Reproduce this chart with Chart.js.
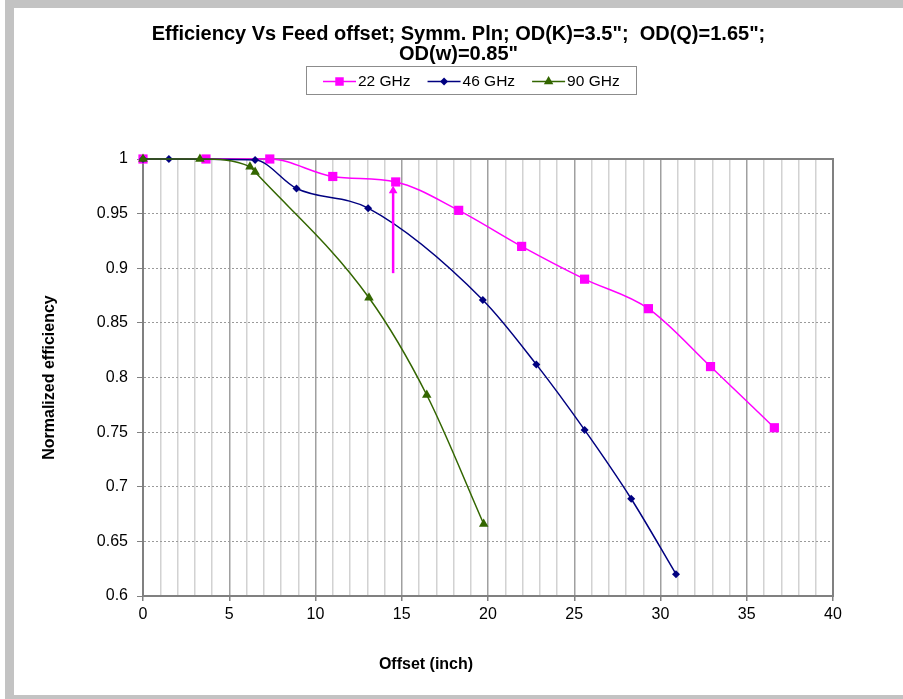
<!DOCTYPE html>
<html lang="en">
<head>
<meta charset="UTF-8">
<title>Efficiency Vs Feed offset</title>
<style>
  html, body { margin: 0; padding: 0; background: #fff; }
  #frame { position: absolute; left: 5px; top: 0; width: 898px; height: 699px; background: #c3c3c3; }
  #box { position: absolute; left: 14px; top: 8px; width: 889px; height: 687px; background: #fff; }
</style>
</head>
<body>
<div id="frame"></div>
<div id="box"><canvas id="effChart"></canvas></div>

<script src="https://cdn.jsdelivr.net/npm/chart.js"></script>
<script>
// feed offset (inch) and normalized efficiency
const seriesNames = ['22 GHz', '46 GHz', '90 GHz'];

const offset22 = [0, 3.65, 7.35, 11.0, 14.65, 18.3, 21.95, 25.6, 29.3, 32.9, 36.6];
const eff22    = [1, 1, 1, 0.984, 0.979, 0.953, 0.920, 0.890, 0.863, 0.810, 0.754];

const offset46 = [0, 1.5, 6.5, 8.9, 13.05, 19.7, 22.8, 25.6, 28.3, 30.9];
const eff46    = [1, 1, 0.999, 0.973, 0.955, 0.871, 0.812, 0.752, 0.689, 0.620];

const offset90 = [0, 3.3, 6.2, 6.5, 13.1, 16.45, 19.75];
const eff90    = [1, 1, 0.993, 0.988, 0.873, 0.784, 0.666];

// the magenta arrow marking the chosen offset
const arrowX = [14.5, 14.5];
const arrowY = [0.8955, 0.971];

const xTicks = { min: 0, max: 40, step: 1, labelEvery: 5 };
const yTicks = { min: 0.6, max: 1, step: 0.05 };

const colors = ['#ff00ff', '#000080', '#336600'];
const styles = ['rect', 'rectRot', 'triangle'];
const radii  = [6.5, 4, 5.5];

const FONT = '"Liberation Sans", Arial, Helvetica, sans-serif';
Chart.defaults.font.family = FONT;
Chart.defaults.color = '#000';

const toPoints = (xs, ys) => xs.map((x, i) => ({ x: x, y: ys[i] }));

function series(i, xs, ys, order) {
    return {
        label: seriesNames[i],
        data: toPoints(xs, ys),
        showLine: true,
        clip: false,
        borderColor: colors[i],
        backgroundColor: colors[i],
        borderWidth: 1.5,
        pointStyle: styles[i],
        pointRadius: radii[i],
        pointBorderWidth: 0,
        cubicInterpolationMode: 'monotone',
        order: order
    };
}

function drawMarker(ctx, style, x, y, r) {
    ctx.beginPath();
    if (style === 'rect') {
        const s = r * Math.SQRT1_2;
        ctx.rect(x - s, y - s, 2 * s, 2 * s);
    } else if (style === 'rectRot') {
        ctx.moveTo(x, y - r); ctx.lineTo(x + r, y); ctx.lineTo(x, y + r); ctx.lineTo(x - r, y);
        ctx.closePath();
    } else {
        const w = r * Math.sqrt(3) / 2;
        ctx.moveTo(x, y - r); ctx.lineTo(x + w, y + r / 2); ctx.lineTo(x - w, y + r / 2);
        ctx.closePath();
    }
    ctx.fill();
}

// plot frame, hand-made legend box and the x axis title
const extras = {
    id: 'extras',
    beforeDatasetsDraw(chart) {
        const { ctx, chartArea: a } = chart;
        ctx.save();
        ctx.strokeStyle = '#808080';
        ctx.lineWidth = 2;
        ctx.strokeRect(a.left, a.top, a.right - a.left, a.bottom - a.top);
        ctx.restore();
    },
    afterDraw(chart) {
        const ctx = chart.ctx;
        ctx.save();
        ctx.strokeStyle = '#8c8c8c';
        ctx.lineWidth = 1;
        ctx.strokeRect(292.5, 58.5, 330, 28);

        ctx.font = '15.5px ' + FONT;
        ctx.textBaseline = 'middle';
        ctx.textAlign = 'left';
        let x = 309;
        const y = 73.5;
        seriesNames.forEach((name, i) => {
            ctx.strokeStyle = colors[i];
            ctx.fillStyle = colors[i];
            ctx.lineWidth = 1.5;
            ctx.beginPath();
            ctx.moveTo(x, y); ctx.lineTo(x + 33, y);
            ctx.stroke();
            drawMarker(ctx, styles[i], x + 16.5, y, i === 0 ? 6 : radii[i]);
            ctx.fillStyle = '#000';
            ctx.fillText(name, x + 35, y);
            x += 35 + ctx.measureText(name).width + 17;
        });

        ctx.font = 'bold 16px ' + FONT;
        ctx.textAlign = 'center';
        ctx.fillText('Offset (inch)', 412, 657);
        ctx.restore();
    }
};

new Chart(document.getElementById('effChart'), {
    type: 'scatter',
    data: {
        datasets: [
            series(0, offset22, eff22, 3),
            series(1, offset46, eff46, 2),
            series(2, offset90, eff90, 1),
            {
                label: 'arrow',
                data: toPoints(arrowX, arrowY),
                showLine: true,
                borderColor: colors[0],
                backgroundColor: colors[0],
                borderWidth: 2.5,
                pointStyle: 'triangle',
                pointRadius: [0, 5],
                pointBorderWidth: 0,
                order: 0
            }
        ]
    },
    options: {
        responsive: true,
        maintainAspectRatio: false,
        animation: false,
        layout: { padding: 0 },
        plugins: {
            legend: { display: false },
            tooltip: { enabled: false },
            title: {
                display: true,
                text: ['Efficiency Vs Feed offset; Symm. Pln; OD(K)=3.5";  OD(Q)=1.65";', 'OD(w)=0.85"'],
                font: { size: 20, weight: 'bold', lineHeight: 1.0 },
                color: '#000',
                padding: { top: 16, bottom: 95 }
            }
        },
        scales: {
            x: {
                type: 'linear',
                min: xTicks.min,
                max: xTicks.max,
                afterFit: s => { s.height = 99; },
                ticks: {
                    stepSize: xTicks.step,
                    autoSkip: false,
                    maxRotation: 0,
                    padding: 4,
                    font: { size: 16 },
                    callback: v => (v % xTicks.labelEvery === 0 ? String(v) : '')
                },
                grid: {
                    color: c => (c.tick && c.tick.value % xTicks.labelEvery === 0 ? '#a0a0a0' : '#d2d2d2'),
                    lineWidth: 1.5,
                    tickLength: 5,
                    tickColor: c => (c.tick && c.tick.value % xTicks.labelEvery === 0 ? '#808080' : 'rgba(0,0,0,0)')
                },
                border: { color: '#808080', width: 2 }
            },
            y: {
                min: yTicks.min,
                max: yTicks.max,
                afterFit: s => { s.width = 129; },
                ticks: {
                    stepSize: yTicks.step,
                    padding: 9,
                    font: { size: 16 },
                    callback: v => String(parseFloat(Number(v).toFixed(2)))
                },
                grid: {
                    color: '#9a9a9a',
                    lineWidth: 1,
                    tickLength: 6,
                    tickColor: '#808080',
                    tickBorderDash: []
                },
                border: { color: '#808080', width: 2, dash: [2, 2] },
                title: {
                    display: true,
                    text: 'Normalized efficiency',
                    font: { size: 16, weight: 'bold' },
                    padding: { top: 26, bottom: 0 }
                }
            },
            // empty right-hand axis, only reserves the margin right of the plot
            yRight: {
                position: 'right',
                display: true,
                afterFit: s => { s.width = 70; },
                ticks: { display: false },
                grid: { display: false },
                border: { display: false }
            }
        }
    },
    plugins: [extras]
});
</script>
</body>
</html>
